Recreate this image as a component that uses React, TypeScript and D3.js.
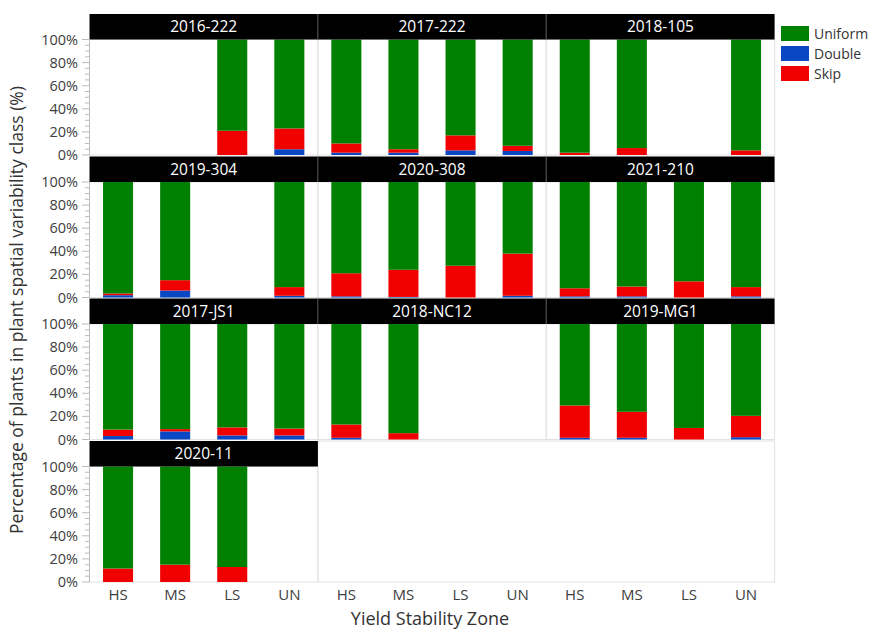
import React from "react";
import * as d3 from "d3";

// Trial sites, in panel order (row by row, three per row)
const sites = [
  "2016-222", "2017-222", "2018-105",
  "2019-304", "2020-308", "2021-210",
  "2017-JS1", "2018-NC12", "2019-MG1",
  "2020-11",
];

const zones = ["HS", "MS", "LS", "UN"];

const classes = ["Uniform", "Double", "Skip"];

// Percentage of plants classed as "Double" per site and zone (null = zone absent)
const doublePct: (number | null)[][] = [
  [null, null, 0, 5],
  [2, 2, 4, 3.5],
  [0, 0, null, 0],
  [2, 6, null, 1.5],
  [1, 0.5, 0, 1.5],
  [1, 1, 0, 1],
  [3, 7, 3.5, 3.5],
  [1.5, 0, null, null],
  [1.5, 1.5, 0, 2],
  [0, 0, 0, null],
];

// Percentage of plants classed as "Skip" per site and zone
const skipPct: (number | null)[][] = [
  [null, null, 21, 18],
  [8, 3, 13, 4.5],
  [2, 6, null, 4],
  [1.5, 9, null, 7.5],
  [20, 23.5, 27.5, 36.5],
  [7, 8.5, 14, 8],
  [5.6, 2, 7, 6],
  [11.5, 5.5, null, null],
  [28, 22.5, 10, 18.5],
  [11.7, 15, 13, null],
];

const yTicks = [0, 20, 40, 60, 80, 100];

const colors: Record<string, string> = {
  Uniform: "#008000",
  Double: "#0a47c4",
  Skip: "#f00000",
};

const W = 872;
const H = 630;
const colX = [89.5, 317.8, 546.2];
const colW = 228.4;
const rowTop = [14, 156.5, 298.5, 441];
const headerH = 25.5;
const plotH = 115.5;
const font = "'Open Sans', 'Noto Sans', sans-serif";

export default function App() {
  const stack = d3
    .stack<Record<string, number>>()
    .keys(["Double", "Skip", "Uniform"]);

  const panels = sites.map((site, i) => {
    const r = Math.floor(i / 3);
    const c = i % 3;
    const x0 = colX[c];
    const top = rowTop[r] + headerH;
    const x = d3
      .scaleBand<string>()
      .domain(zones)
      .range([x0, x0 + colW])
      .paddingInner(0.474)
      .paddingOuter(0.237);
    const y = d3.scaleLinear().domain([0, 100]).range([top + plotH, top]);
    const rows = zones.map((z, j) => {
      const d = doublePct[i][j];
      const s = skipPct[i][j];
      if (d === null || s === null) return { zone: z, present: 0, Double: 0, Skip: 0, Uniform: 0 };
      return { zone: z, present: 1, Double: d, Skip: s, Uniform: 100 - d - s };
    });
    const series = stack(rows as any);
    return { site, r, c, x0, top, x, y, rows, series };
  });

  const rowScales = rowTop.map((t) =>
    d3.scaleLinear().domain([0, 100]).range([t + headerH + plotH, t + headerH])
  );
  const minorTicks = d3.range(0, 101, 5);

  return (
    <svg width={W} height={H} style={{ position: "absolute", left: 0, top: 0, background: "#fff" }}>
      {/* panel frames */}
      {panels.map((p) => (
        <rect
          key={"f" + p.site}
          x={p.x0}
          y={p.top}
          width={colW}
          height={plotH}
          fill="none"
          stroke="#e2e2e2"
          strokeWidth={1}
        />
      ))}
      {/* empty area of the last row */}
      <rect
        x={colX[1]}
        y={rowTop[3]}
        width={colW * 2}
        height={headerH + plotH}
        fill="none"
        stroke="#e2e2e2"
        strokeWidth={1}
      />

      {/* stacked bars */}
      {panels.map((p) =>
        p.series.map((s) => (
          <g key={p.site + s.key} fill={colors[s.key]}>
            {s.map((d, j) =>
              p.rows[j].present ? (
                <rect
                  key={j}
                  x={p.x(zones[j])!}
                  y={p.y(d[1])}
                  width={p.x.bandwidth()}
                  height={Math.max(0, p.y(d[0]) - p.y(d[1]))}
                />
              ) : null
            )}
          </g>
        ))
      )}

      {/* panel headers */}
      {panels.map((p) => (
        <g key={"h" + p.site}>
          <rect x={p.x0} y={rowTop[p.r]} width={colW} height={headerH} fill="#000" />
          <text
            x={p.x0 + colW / 2}
            y={rowTop[p.r] + headerH / 2 + 5.5}
            textAnchor="middle"
            fill="#fff"
            fontSize={15.5}
            fontFamily={font}
          >
            {p.site}
          </text>
        </g>
      ))}
      {/* header separators */}
      {[0, 1, 2].map((r) =>
        [1, 2].map((c) => (
          <line
            key={"s" + r + c}
            x1={colX[c]}
            x2={colX[c]}
            y1={rowTop[r]}
            y2={rowTop[r] + headerH}
            stroke="#4a4a4a"
            strokeWidth={1.2}
          />
        ))
      )}

      {/* y axes */}
      {rowScales.map((y, r) => (
        <g key={"ya" + r}>
          <line x1={89.5} x2={89.5} y1={y(0)} y2={y(100)} stroke="#bdbdbd" strokeWidth={1} />
          {minorTicks.map((t) => (
            <line
              key={t}
              x1={t % 20 === 0 ? 82 : 85}
              x2={89.5}
              y1={y(t)}
              y2={y(t)}
              stroke="#bdbdbd"
              strokeWidth={1}
            />
          ))}
          {yTicks.map((t) => (
            <text
              key={t}
              x={78}
              y={y(t) + 5}
              textAnchor="end"
              fill="#404040"
              fontSize={14.5}
              fontFamily={font}
            >
              {t}%
            </text>
          ))}
        </g>
      ))}

      {/* x tick labels */}
      {[0, 1, 2].map((c) => {
        const x = d3
          .scaleBand<string>()
          .domain(zones)
          .range([colX[c], colX[c] + colW])
          .paddingInner(0.474)
          .paddingOuter(0.237);
        return zones.map((z) => (
          <text
            key={"xt" + c + z}
            x={x(z)! + x.bandwidth() / 2}
            y={600}
            textAnchor="middle"
            fill="#404040"
            fontSize={15}
            fontFamily={font}
          >
            {z}
          </text>
        ));
      })}

      {/* axis titles */}
      <text
        x={430}
        y={625}
        textAnchor="middle"
        fill="#333"
        fontSize={18}
        fontFamily={font}
      >
        Yield Stability Zone
      </text>
      <text
        transform="translate(23,310) rotate(-90)"
        textAnchor="middle"
        fill="#333"
        fontSize={17.5}
        fontFamily={font}
      >
        Percentage of plants in plant spatial variability class (%)
      </text>

      {/* legend */}
      {classes.map((k, i) => (
        <g key={"lg" + k} transform={`translate(781,${26 + i * 20})`}>
          <rect width={28} height={15} fill={colors[k]} />
          <text x={33} y={12.5} fill="#333" fontSize={14} fontFamily={font}>
            {k}
          </text>
        </g>
      ))}
    </svg>
  );
}
